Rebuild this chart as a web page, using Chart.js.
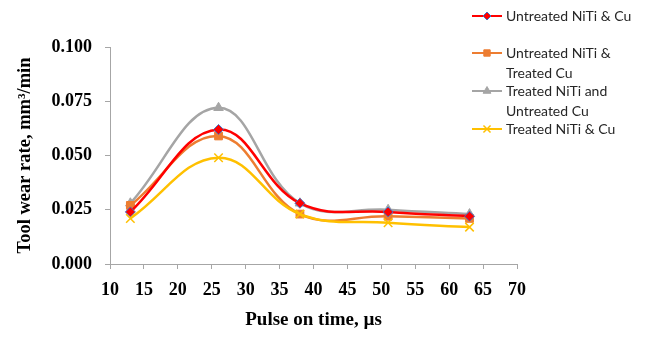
<!DOCTYPE html>
<html>
<head>
<meta charset="utf-8">
<script src="https://cdn.jsdelivr.net/npm/chart.js@4"></script>
<style>
  html, body { margin: 0; padding: 0; background: #fff; }
  #wrap { width: 657px; height: 347px; position: relative; }
</style>
</head>
<body>
<div id="wrap"><canvas id="wear-chart" width="657" height="347"></canvas></div>
<script>
// pulse on time (us)
var pulseOn = [13, 26, 38, 51, 63];
// tool wear rate, mm3/min
var untreatedBoth = [0.024, 0.062, 0.028, 0.024, 0.022];
var untreatedNiTiTreatedCu = [0.027, 0.059, 0.023, 0.022, 0.021];
var treatedNiTiUntreatedCu = [0.028, 0.072, 0.028, 0.025, 0.023];
var treatedBoth = [0.021, 0.049, 0.023, 0.019, 0.017];
var yTicks = [0, 0.025, 0.05, 0.075, 0.1];
var xTicks = [10, 15, 20, 25, 30, 35, 40, 45, 50, 55, 60, 65, 70];

var legendLabels = [
  ['Untreated NiTi & Cu'],
  ['Untreated NiTi &', 'Treated Cu'],
  ['Treated NiTi and', 'Untreated Cu'],
  ['Treated NiTi & Cu']
];

function pts(ys) {
  return pulseOn.map(function (x, i) { return {x: x, y: ys[i]}; });
}

// legend on the right with wrapped labels (drawn as canvas text)
var sideLegend = {
  id: 'sideLegend',
  afterDraw: function (chart) {
    var ctx = chart.ctx;
    var rows = [16, 53, 91, 129];
    ctx.save();
    ctx.font = '14px Lato';
    ctx.textBaseline = 'middle';
    ctx.textAlign = 'left';
    chart.data.datasets.forEach(function (ds, i) {
      var y = rows[i];
      ctx.strokeStyle = ds.borderColor;
      ctx.lineWidth = 2;
      ctx.beginPath();
      ctx.moveTo(472, y);
      ctx.lineTo(502, y);
      ctx.stroke();
      ctx.fillStyle = ds.pointBackgroundColor;
      ctx.strokeStyle = ds.pointBorderColor;
      ctx.lineWidth = ds.pointBorderWidth;
      Chart.helpers.drawPoint(ctx, {
        pointStyle: ds.pointStyle,
        radius: ds.pointRadius - 1,
        borderWidth: ds.pointBorderWidth
      }, 487, y);
      ctx.fillStyle = '#262626';
      legendLabels[i].forEach(function (line, j) {
        ctx.fillText(line, 506, y + j * 20.5);
      });
    });
    ctx.restore();
  }
};

var ctx = document.getElementById('wear-chart').getContext('2d');

new Chart(ctx, {
  type: 'line',
  data: {
    datasets: [{
      label: 'Untreated NiTi & Cu',
      data: pts(untreatedBoth),
      borderColor: '#FF0000',
      borderWidth: 2.5,
      pointStyle: 'rectRot',
      pointRadius: 5,
      pointBackgroundColor: '#FF0000',
      pointBorderColor: '#4472C4',
      pointBorderWidth: 1,
      order: 1
    }, {
      label: 'Untreated NiTi & Treated Cu',
      data: pts(untreatedNiTiTreatedCu),
      borderColor: '#ED7D31',
      borderWidth: 2.5,
      pointStyle: 'rect',
      pointRadius: 5.5,
      pointBackgroundColor: '#ED7D31',
      pointBorderColor: '#ED7D31',
      pointBorderWidth: 1,
      order: 2
    }, {
      label: 'Treated NiTi and Untreated Cu',
      data: pts(treatedNiTiUntreatedCu),
      borderColor: '#A5A5A5',
      borderWidth: 2.5,
      pointStyle: 'triangle',
      pointRadius: 5.5,
      pointBackgroundColor: '#A5A5A5',
      pointBorderColor: '#A5A5A5',
      pointBorderWidth: 1,
      order: 3
    }, {
      label: 'Treated NiTi & Cu',
      data: pts(treatedBoth),
      borderColor: '#FFC000',
      borderWidth: 2.5,
      pointStyle: 'crossRot',
      pointRadius: 6,
      pointBackgroundColor: '#FFC000',
      pointBorderColor: '#FFC000',
      pointBorderWidth: 1.5,
      order: 0
    }]
  },
  options: {
    responsive: false,
    animation: false,
    layout: {padding: {left: 10, right: 140, top: 47, bottom: 12}},
    elements: {line: {tension: 0.4}},
    plugins: {
      legend: {display: false},
      tooltip: {enabled: false}
    },
    scales: {
      x: {
        type: 'linear',
        min: 10,
        max: 70,
        afterBuildTicks: function (scale) {
          scale.ticks = xTicks.map(function (v) { return {value: v}; });
        },
        afterFit: function (scale) { scale.height = 347 - 264 - 12; },
        border: {color: '#A6A6A6', width: 1},
        grid: {drawOnChartArea: false, drawTicks: true, tickLength: 5, color: '#A6A6A6'},
        ticks: {
          color: '#000',
          padding: 11,
          font: {family: 'Liberation Serif', size: 18, weight: 'bold'}
        },
        title: {
          display: true,
          text: 'Pulse on time, µs',
          color: '#000',
          font: {family: 'Liberation Serif', size: 19, weight: 'bold'}
        }
      },
      y: {
        min: 0,
        max: 0.1,
        afterBuildTicks: function (scale) {
          scale.ticks = yTicks.map(function (v) { return {value: v}; });
        },
        afterFit: function (scale) { scale.width = 110 - 10; },
        border: {color: '#A6A6A6', width: 1},
        grid: {drawOnChartArea: false, drawTicks: true, tickLength: 5, color: '#A6A6A6'},
        ticks: {
          color: '#000',
          padding: 13,
          font: {family: 'Liberation Serif', size: 18, weight: 'bold'},
          callback: function (v) { return v.toFixed(3); }
        },
        title: {
          display: true,
          text: 'Tool wear rate, mm³/min',
          color: '#000',
          font: {family: 'Liberation Serif', size: 18.5, weight: 'bold'}
        }
      }
    }
  },
  plugins: [sideLegend]
});
</script>
</body>
</html>
